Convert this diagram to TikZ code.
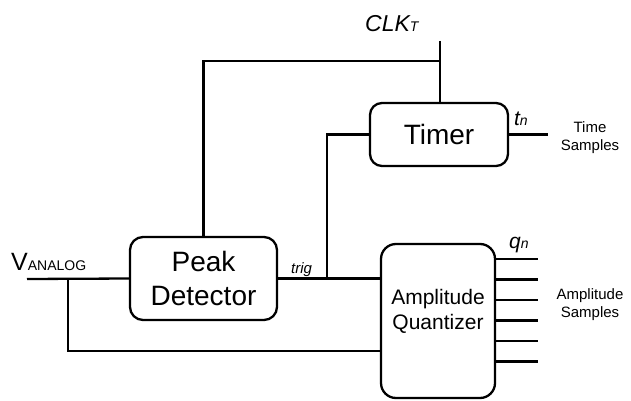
\documentclass[tikz,border=0pt]{standalone}
\usepackage{fontspec}
\setmainfont{Liberation Sans}
\begin{document}
\begin{tikzpicture}[x=1pt,y=-1pt,line width=2.3pt,
    block/.style={draw,rounded corners=13pt,align=center,inner sep=0pt},
    lbl/.style={inner sep=0pt,align=center}]
    \useasboundingbox (0,0) rectangle (631,401);
    % blocks
    \node[block,minimum width=147pt,minimum height=83pt,font=\fontsize{28}{34}\selectfont] (PD) at (203.5,278.5) {Peak\\Detector};
    \node[block,minimum width=138pt,minimum height=63pt,rounded corners=12pt,font=\fontsize{28}{34}\selectfont] (TM) at (439,134.5) {Timer};
    \node[block,minimum width=114pt,minimum height=154pt,rounded corners=15pt] (AQ) at (438,321) {};
    \node[lbl,font=\fontsize{21}{25}\selectfont] (AQtxt) at (438,311) {Amplitude\\Quantizer};
    % labels
    \node[lbl,anchor=base west] (VIN) at (10,270) {\fontsize{25}{30}\selectfont V\fontsize{14}{17}\selectfont ANALOG};
    \node[lbl,anchor=base west,font=\itshape] (CLK) at (364,32) {\fontsize{23}{28}\selectfont CLK\fontsize{14}{17}\selectfont T};
    \node[lbl,anchor=base west,font=\itshape\fontsize{15}{18}\selectfont] (TRIG) at (290,273) {trig};
    \node[lbl,anchor=base west,font=\itshape] (TN) at (513,125) {\fontsize{21}{25}\selectfont t\fontsize{14}{17}\selectfont n};
    \node[lbl,anchor=base west,font=\itshape] (QN) at (508,248) {\fontsize{21}{25}\selectfont q\fontsize{14}{17}\selectfont n};
    \node[lbl,font=\fontsize{15}{18}\selectfont] (TS) at (590,138) {Time\\Samples};
    \node[lbl,font=\fontsize{15}{18}\selectfont] (AS) at (590,305) {Amplitude\\Samples};
    % connection points
    \coordinate (vin) at (27,279);
    \coordinate (tap) at (68,279);
    \coordinate (ttap) at (327,279);
    \coordinate (clk) at (440,41);
    \coordinate (clkj) at (440,61);
    \coordinate (tout) at (548,134.5);
    % wires
    \draw (vin) -- (PD.west);
    \draw (tap) |- (AQ.west |- 0,351);
    \draw (PD.east) -- (PD.east -| AQ.west);
    \draw (ttap) |- (TM.west);
    \draw (PD.north) |- (clkj);
    \draw (clk) -- (clk |- TM.north);
    \draw (TM.east) -- (tout);
    \foreach \i in {0,...,5}
        \draw (AQ.east |- 0,259+20.5*\i) -- (538,259+20.5*\i);
\end{tikzpicture}
\end{document}
